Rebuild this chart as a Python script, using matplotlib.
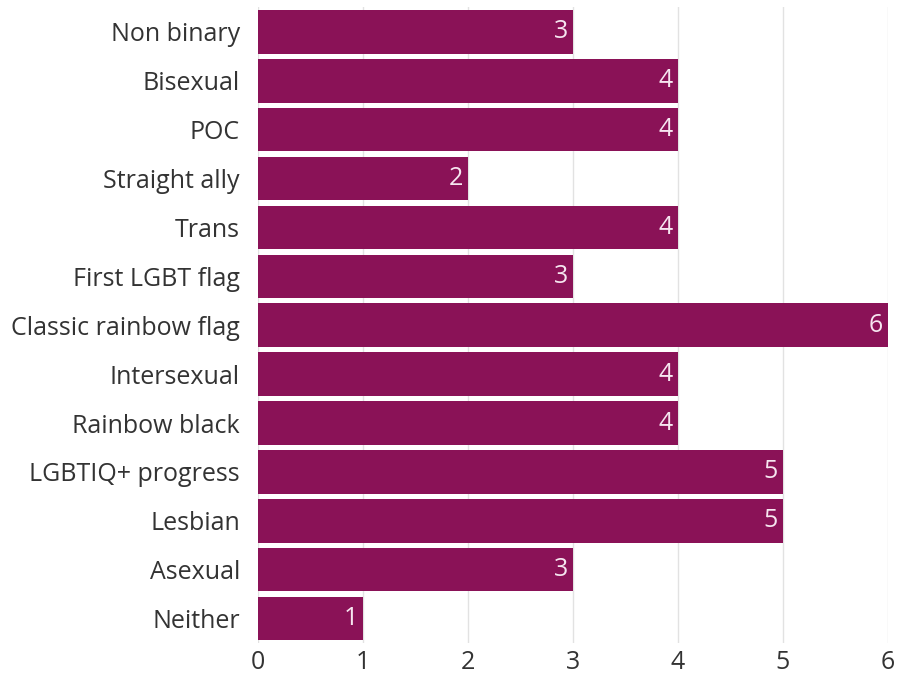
import matplotlib
matplotlib.use("Agg")
import matplotlib.pyplot as plt

categories = [
    "Non binary", "Bisexual", "POC", "Straight ally", "Trans",
    "First LGBT flag", "Classic rainbow flag", "Intersexual",
    "Rainbow black", "LGBTIQ+ progress", "Lesbian", "Asexual", "Neither",
]
values = [3, 4, 4, 2, 4, 3, 6, 4, 4, 5, 5, 3, 1]
x_ticks = [0, 1, 2, 3, 4, 5, 6]

bar_color = "#8a1257"
plt.rcParams["font.family"] = ["Open Sans", "DejaVu Sans"]
fs = 18

fig = plt.figure(figsize=(9.01, 6.79), dpi=100)
ax = fig.add_axes([0.2864, 0.053, 0.699, 0.936])

y = list(range(len(categories)))
bars = ax.barh(y, values, height=0.89, color=bar_color, zorder=2)
for rect, v in zip(bars, values):
    ax.text(v - 0.05, rect.get_y() + rect.get_height() / 2, str(v),
            ha="right", va="center", color="#f6e6f0", fontsize=fs, zorder=3)

ax.set_ylim(len(categories) - 0.5, -0.5)
ax.set_xlim(0, 6)
ax.set_yticks(y)
ax.set_yticklabels(categories, fontsize=fs, color="#333333")
ax.set_xticks(x_ticks)
ax.set_xticklabels([str(t) for t in x_ticks], fontsize=fs, color="#333333")
ax.tick_params(axis="x", length=0, pad=5)
ax.tick_params(axis="y", length=0, pad=13)
ax.xaxis.grid(True, color="#e2e2e2", linewidth=1, zorder=0)
ax.set_axisbelow(True)
for s in ax.spines.values():
    s.set_visible(False)

fig.savefig("out.png", dpi=100)
